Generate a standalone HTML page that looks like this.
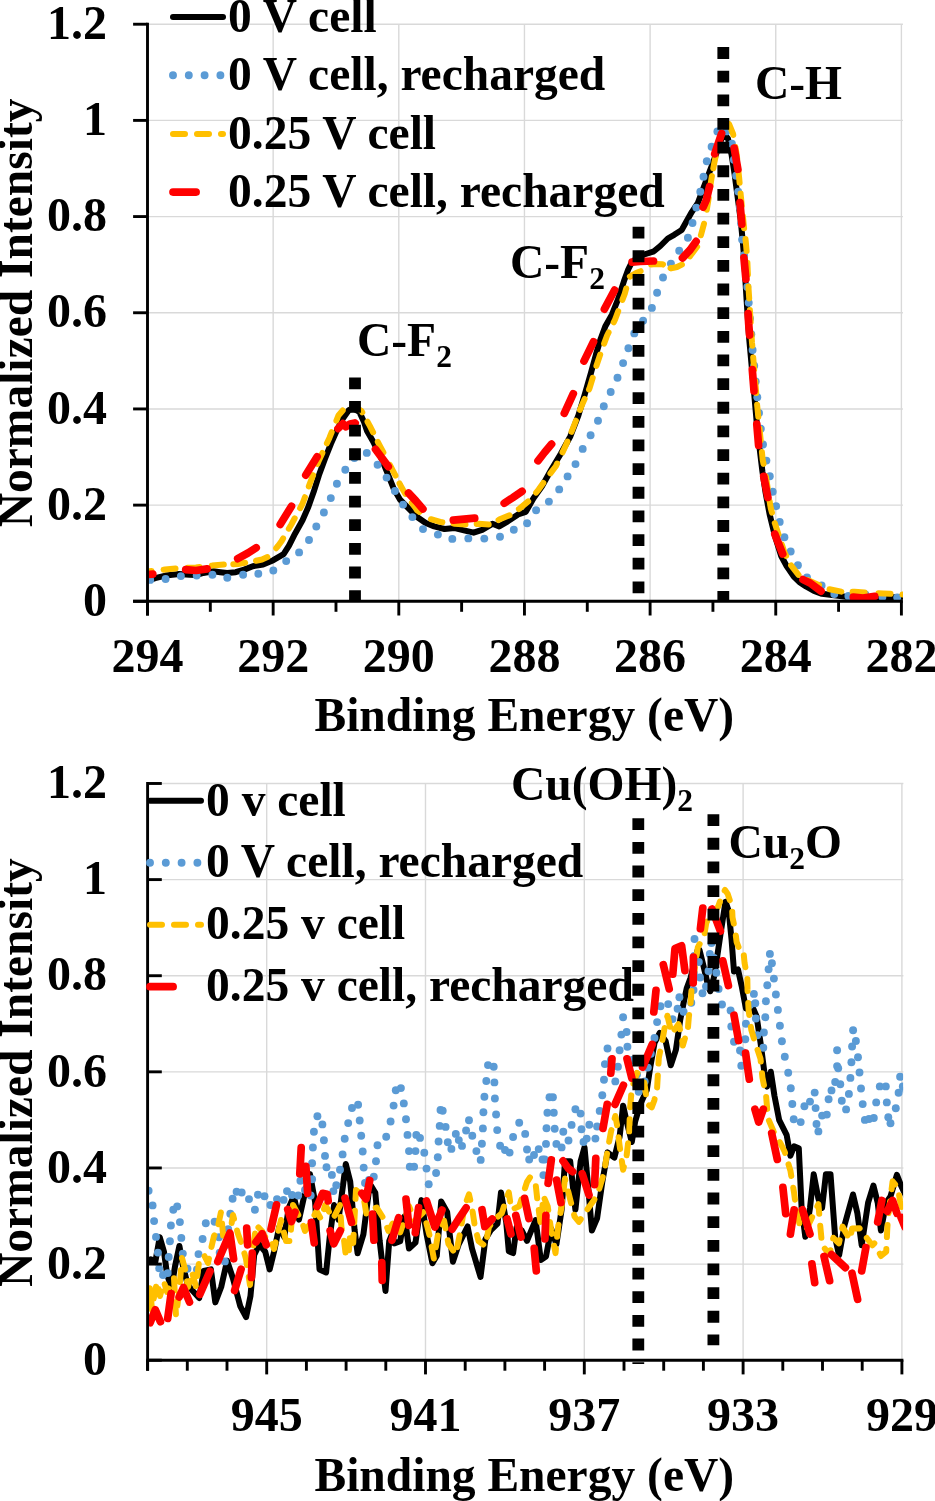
<!DOCTYPE html><html><head><meta charset="utf-8"><style>html,body{margin:0;padding:0;background:#fff;}svg{display:block;will-change:transform;}text{font-family:"Liberation Serif", serif;font-weight:bold;fill:#000;}</style></head><body>
<svg width="935" height="1501" viewBox="0 0 935 1501">
<rect width="935" height="1501" fill="#fff"/>
<defs><clipPath id="ct"><rect x="147.5" y="0" width="755.5" height="603"/></clipPath><clipPath id="cb"><rect x="147.6" y="760" width="755.5" height="603"/></clipPath></defs>
<line x1="147.5" y1="505.12" x2="902.90" y2="505.12" stroke="#d9d9d9" stroke-width="1.4"/>
<line x1="147.5" y1="408.94" x2="902.90" y2="408.94" stroke="#d9d9d9" stroke-width="1.4"/>
<line x1="147.5" y1="312.76" x2="902.90" y2="312.76" stroke="#d9d9d9" stroke-width="1.4"/>
<line x1="147.5" y1="216.58" x2="902.90" y2="216.58" stroke="#d9d9d9" stroke-width="1.4"/>
<line x1="147.5" y1="120.40" x2="902.90" y2="120.40" stroke="#d9d9d9" stroke-width="1.4"/>
<line x1="147.5" y1="24.22" x2="902.90" y2="24.22" stroke="#d9d9d9" stroke-width="1.4"/>
<line x1="273.15" y1="24.22" x2="273.15" y2="601.30" stroke="#d9d9d9" stroke-width="1.4"/>
<line x1="398.80" y1="24.22" x2="398.80" y2="601.30" stroke="#d9d9d9" stroke-width="1.4"/>
<line x1="524.45" y1="24.22" x2="524.45" y2="601.30" stroke="#d9d9d9" stroke-width="1.4"/>
<line x1="650.10" y1="24.22" x2="650.10" y2="601.30" stroke="#d9d9d9" stroke-width="1.4"/>
<line x1="775.75" y1="24.22" x2="775.75" y2="601.30" stroke="#d9d9d9" stroke-width="1.4"/>
<line x1="901.40" y1="24.22" x2="901.40" y2="601.30" stroke="#d9d9d9" stroke-width="1.4"/>
<path d="M147.6 580.7 L155.3 578.2 L165.5 575.6 L179.2 573.9 L189.5 574.8 L196.3 575.1 L203.2 573.0 L213.4 571.3 L220.3 572.2 L227.1 573.0 L235.7 572.2 L244.2 569.6 L252.8 566.2 L263.1 564.5 L273.3 560.2 L283.6 554.2 L289.0 545.7 L295.0 533.7 L302.5 520.3 L308.4 506.8 L313.7 491.8 L318.9 475.3 L324.9 458.9 L330.9 443.9 L336.9 430.4 L342.9 418.4 L348.9 410.0 L353.4 408.4 L359.4 412.0 L363.8 421.4 L366.8 430.4 L372.8 440.9 L380.3 455.9 L387.8 473.8 L393.8 488.8 L399.8 499.3 L408.6 508.4 L417.1 517.0 L425.7 523.0 L434.2 526.4 L444.5 529.0 L454.8 528.1 L465.0 530.7 L473.6 532.7 L482.1 529.8 L492.4 523.8 L499.2 526.4 L507.8 521.3 L518.1 514.4 L525.8 511.9 L533.5 498.2 L542.0 486.2 L551.2 469.7 L560.8 453.7 L570.4 436.2 L578.4 415.4 L584.7 394.6 L591.1 372.3 L595.9 354.7 L600.7 338.7 L605.5 325.9 L611.9 314.7 L618.3 298.7 L623.9 281.3 L628.2 269.5 L631.4 263.1 L636.7 257.8 L644.2 254.5 L653.9 251.3 L660.3 246.0 L667.8 238.5 L674.2 234.8 L681.7 229.9 L686.0 222.3 L691.9 211.8 L697.9 202.8 L702.4 190.9 L706.9 178.9 L711.4 166.9 L715.9 154.9 L720.4 141.4 L724.1 134.0 L727.9 138.4 L731.6 154.9 L734.6 174.4 L737.6 196.8 L740.6 219.3 L742.8 241.8 L744.3 259.7 L745.5 282.0 L746.6 300.0 L749.3 340.0 L753.9 390.6 L756.9 424.6 L759.8 450.0 L762.4 471.4 L765.6 492.8 L769.6 514.2 L774.8 535.6 L781.2 556.0 L786.6 566.0 L793.8 576.5 L800.0 582.5 L806.0 586.5 L814.0 591.0 L822.0 593.8 L834.0 595.2 L847.7 596.9 L864.8 597.7 L881.9 597.7 L899.0 596.9 L906.0 596.5" stroke="#000" stroke-width="6" fill="none" stroke-linejoin="round" stroke-linecap="round" clip-path="url(#ct)"/>
<g fill="#5b9bd5" clip-path="url(#ct)"><circle cx="150.2" cy="579.9" r="3.95"/><circle cx="165.6" cy="579.0" r="3.95"/><circle cx="180.9" cy="576.1" r="3.95"/><circle cx="196.7" cy="575.6" r="3.95"/><circle cx="212.4" cy="574.8" r="3.95"/><circle cx="227.3" cy="577.7" r="3.95"/><circle cx="243.1" cy="574.8" r="3.95"/><circle cx="258.3" cy="573.8" r="3.95"/><circle cx="273.3" cy="570.5" r="3.95"/><circle cx="286.2" cy="561.1" r="3.95"/><circle cx="299.1" cy="552.4" r="3.95"/><circle cx="309.0" cy="540.0" r="3.95"/><circle cx="316.3" cy="526.5" r="3.95"/><circle cx="323.9" cy="512.5" r="3.95"/><circle cx="330.8" cy="498.1" r="3.95"/><circle cx="336.9" cy="483.7" r="3.95"/><circle cx="345.3" cy="469.8" r="3.95"/><circle cx="354.4" cy="458.0" r="3.95"/><circle cx="366.8" cy="452.9" r="3.95"/><circle cx="377.6" cy="464.8" r="3.95"/><circle cx="386.6" cy="477.6" r="3.95"/><circle cx="394.9" cy="491.0" r="3.95"/><circle cx="403.1" cy="504.6" r="3.95"/><circle cx="412.4" cy="517.1" r="3.95"/><circle cx="423.0" cy="529.1" r="3.95"/><circle cx="437.9" cy="534.6" r="3.95"/><circle cx="452.3" cy="538.9" r="3.95"/><circle cx="468.3" cy="538.4" r="3.95"/><circle cx="484.3" cy="538.6" r="3.95"/><circle cx="500.0" cy="536.8" r="3.95"/><circle cx="513.8" cy="529.8" r="3.95"/><circle cx="527.1" cy="523.2" r="3.95"/><circle cx="536.1" cy="510.2" r="3.95"/><circle cx="548.9" cy="501.6" r="3.95"/><circle cx="559.2" cy="489.4" r="3.95"/><circle cx="567.6" cy="476.4" r="3.95"/><circle cx="575.5" cy="464.1" r="3.95"/><circle cx="582.7" cy="448.9" r="3.95"/><circle cx="590.6" cy="435.3" r="3.95"/><circle cx="598.0" cy="420.8" r="3.95"/><circle cx="603.8" cy="406.3" r="3.95"/><circle cx="610.7" cy="392.0" r="3.95"/><circle cx="617.5" cy="377.8" r="3.95"/><circle cx="623.1" cy="363.1" r="3.95"/><circle cx="628.4" cy="348.3" r="3.95"/><circle cx="634.3" cy="333.4" r="3.95"/><circle cx="643.1" cy="320.8" r="3.95"/><circle cx="651.9" cy="307.9" r="3.95"/><circle cx="657.1" cy="292.8" r="3.95"/><circle cx="663.0" cy="277.5" r="3.95"/><circle cx="670.9" cy="263.6" r="3.95"/><circle cx="679.2" cy="250.8" r="3.95"/><circle cx="687.9" cy="237.7" r="3.95"/><circle cx="692.5" cy="223.0" r="3.95"/><circle cx="696.3" cy="207.6" r="3.95"/><circle cx="700.3" cy="191.7" r="3.95"/><circle cx="703.5" cy="176.8" r="3.95"/><circle cx="706.8" cy="161.2" r="3.95"/><circle cx="711.6" cy="146.8" r="3.95"/><circle cx="717.4" cy="131.4" r="3.95"/><circle cx="726.3" cy="131.4" r="3.95"/><circle cx="731.9" cy="143.8" r="3.95"/><circle cx="733.9" cy="159.7" r="3.95"/><circle cx="736.1" cy="175.7" r="3.95"/><circle cx="738.2" cy="191.6" r="3.95"/><circle cx="739.8" cy="207.5" r="3.95"/><circle cx="741.1" cy="223.5" r="3.95"/><circle cx="742.1" cy="239.6" r="3.95"/><circle cx="744.1" cy="255.3" r="3.95"/><circle cx="745.8" cy="271.1" r="3.95"/><circle cx="747.3" cy="286.9" r="3.95"/><circle cx="748.7" cy="302.8" r="3.95"/><circle cx="750.0" cy="318.5" r="3.95"/><circle cx="751.3" cy="334.3" r="3.95"/><circle cx="752.6" cy="350.0" r="3.95"/><circle cx="754.2" cy="365.8" r="3.95"/><circle cx="755.7" cy="381.5" r="3.95"/><circle cx="757.3" cy="397.2" r="3.95"/><circle cx="759.0" cy="413.0" r="3.95"/><circle cx="760.8" cy="428.8" r="3.95"/><circle cx="763.0" cy="444.5" r="3.95"/><circle cx="766.4" cy="460.6" r="3.95"/><circle cx="769.8" cy="476.3" r="3.95"/><circle cx="772.7" cy="491.7" r="3.95"/><circle cx="776.1" cy="506.2" r="3.95"/><circle cx="779.7" cy="521.9" r="3.95"/><circle cx="784.4" cy="537.3" r="3.95"/><circle cx="790.7" cy="551.5" r="3.95"/><circle cx="797.9" cy="565.3" r="3.95"/><circle cx="807.0" cy="577.5" r="3.95"/><circle cx="821.6" cy="585.4" r="3.95"/><circle cx="834.3" cy="594.0" r="3.95"/><circle cx="848.4" cy="595.9" r="3.95"/><circle cx="865.4" cy="594.4" r="3.95"/><circle cx="882.4" cy="596.9" r="3.95"/><circle cx="897.2" cy="597.4" r="3.95"/></g>
<path d="M147.6 571.5 L151.6 571.0 M163.6 569.7 L165.0 569.5 L175.5 568.5 M187.7 567.8 L196.0 567.5 L199.7 567.0 M211.9 565.5 L212.0 565.5 L223.8 564.5 M233.3 564.2 L238.0 564.0 L245.2 562.8 M256.0 560.8 L262.0 559.5 L267.4 557.1 M276.2 548.2 L278.0 546.0 L281.5 541.2 L283.1 538.4 M288.8 528.7 L291.2 524.7 L294.7 518.3 M300.1 508.2 L302.5 503.8 L304.9 497.2 M308.8 486.4 L310.7 481.3 L313.1 475.2 M317.5 463.9 L318.9 460.4 L322.4 452.9 M326.9 443.3 L329.4 437.9 L331.7 432.2 M336.4 420.6 L338.4 415.5 L342.7 410.5 M352.2 406.7 L356.0 407.5 L361.6 411.0 L362.3 412.4 M367.5 421.7 L369.8 425.9 L373.1 432.4 M377.8 441.9 L379.6 445.4 L383.4 452.5 M389.9 465.0 L393.0 470.8 L395.5 475.7 M399.5 483.4 L400.0 484.5 L405.3 493.9 M411.8 502.9 L414.8 506.8 L417.1 510.2 L419.6 511.9 M430.9 519.2 L441.1 522.1 L442.4 522.3 M453.6 523.6 L454.8 523.8 L465.5 524.6 M476.7 524.0 L478.7 523.8 L488.7 524.5 M498.5 520.0 L499.2 519.6 L509.5 515.3 M518.9 509.0 L519.8 508.4 L528.2 501.4 M536.1 492.6 L538.6 489.6 L543.3 483.0 M550.4 473.4 L556.0 466.0 L557.1 463.6 M562.5 452.4 L565.6 445.8 L567.4 441.5 M571.5 431.8 L573.6 426.7 L575.9 420.7 M580.0 409.9 L581.6 405.9 L584.7 398.9 M589.0 389.4 L589.5 388.3 L592.7 377.9 M596.4 365.9 L600.2 354.5 M604.1 343.6 L607.1 335.5 L608.6 332.5 M613.7 322.3 L615.1 319.5 L618.2 311.2 M622.4 299.9 L624.7 293.9 L626.2 288.5 M629.9 276.6 L636.0 273.0 L640.6 271.2 M651.1 264.5 L656.0 264.0 L662.4 264.2 L663.0 264.5 M670.6 268.2 L671.0 268.4 L677.0 267.0 L681.9 264.6 M689.9 256.3 L691.3 254.5 L697.1 246.8 M700.9 235.3 L700.9 235.3 L704.0 223.7 M706.8 209.7 L708.4 199.8 L708.7 197.9 M710.1 187.8 L711.4 178.9 L711.9 176.0 M713.3 168.4 L714.4 162.4 L715.6 156.6 M718.2 144.9 L722.0 133.6 M728.9 124.1 L729.0 124.0 L733.1 134.0 L733.3 135.0 M735.4 146.9 L736.8 154.9 L737.2 158.7 M738.4 170.7 L739.1 177.4 L739.6 182.7 M740.6 193.5 L740.6 193.8 L741.8 205.5 M742.9 216.3 L744.1 228.2 M745.5 239.1 L745.8 241.8 L746.6 251.0 M747.4 262.7 L747.9 274.7 M748.4 286.4 L749.2 298.4 M749.9 310.1 L750.7 322.1 M751.4 333.8 L752.0 342.7 L752.3 345.7 M753.2 357.4 L754.2 369.4 M755.2 381.1 L756.2 393.0 M757.1 404.7 L757.3 406.7 L758.3 416.7 M759.5 428.4 L760.7 440.3 M761.9 452.0 L762.7 460.0 L763.5 463.9 M765.9 476.4 L766.0 477.0 L767.7 488.3 M769.6 501.0 L770.7 507.9 L772.0 512.7 M774.8 523.1 L774.9 523.3 L778.5 534.5 M781.9 544.7 L784.4 552.4 L786.1 555.9 M791.1 565.4 L798.5 574.8 M808.2 580.2 L818.6 584.9 L819.1 585.1 M829.5 589.3 L841.3 591.6 M852.6 591.8 L854.5 591.8 L864.6 592.6 M878.5 593.3 L883.6 593.5 L890.5 593.8 M902.5 594.4 L906.0 594.5" stroke="#ffc000" stroke-width="6" fill="none" stroke-linejoin="round" stroke-linecap="round" clip-path="url(#ct)"/>
<path d="M147.6 574.5 L152.8 574.1 M185.7 569.6 L196.0 570.5 L207.1 568.9 M237.7 558.6 L248.0 553.0 L256.2 547.7 M280.2 524.5 L291.5 506.2 M305.8 475.1 L317.1 456.8 M338.0 428.6 L342.9 423.7 L345.9 426.7 L350.0 424.0 L354.9 422.9 L355.2 423.1 M375.5 449.3 L388.3 466.6 M408.5 493.0 L416.0 501.0 L422.9 509.0 M453.3 520.2 L464.0 519.2 L474.7 518.1 M504.2 503.2 L513.0 497.5 L522.1 491.3 M538.0 460.8 L544.5 452.5 L551.6 444.1 M564.3 413.3 L573.3 393.7 M584.0 361.1 L593.5 341.8 M604.4 309.1 L614.6 290.1 M632.1 262.2 L640.0 261.5 L653.5 261.0 M682.5 258.0 L690.0 250.0 L696.1 241.4 M703.1 207.2 L706.3 200.0 L709.5 186.7 M714.7 153.9 L721.6 133.5 M734.2 148.1 L737.9 169.3 M740.0 202.7 L741.8 224.2 M743.9 257.7 L745.9 279.1 M748.1 313.7 L748.7 324.0 L749.6 335.1 M752.3 369.7 L754.0 390.7 L754.0 391.1 M756.8 424.1 L758.6 445.5 M763.7 476.3 L763.8 477.0 L767.9 497.4 M774.8 534.0 L782.7 554.0 M803.0 579.6 L810.0 583.0 L821.0 591.2 M853.3 597.0 L863.0 598.0 L874.7 596.3" stroke="#ff0000" stroke-width="7.7" fill="none" stroke-linejoin="round" stroke-linecap="round" clip-path="url(#ct)"/>
<line x1="355.0" y1="377.4" x2="355.0" y2="601.3" stroke="#000" stroke-width="11.8" stroke-dasharray="11.8 11.85"/>
<line x1="638.5" y1="226.7" x2="638.5" y2="601.3" stroke="#000" stroke-width="11.8" stroke-dasharray="11.8 11.85"/>
<line x1="723.3" y1="47.1" x2="723.3" y2="601.3" stroke="#000" stroke-width="11.8" stroke-dasharray="11.8 11.85"/>
<line x1="147.5" y1="22.82" x2="147.5" y2="615.50" stroke="#000" stroke-width="2.9"/>
<line x1="133.10" y1="601.30" x2="147.5" y2="601.30" stroke="#000" stroke-width="2.9"/>
<text x="107" y="616.00" font-size="48" text-anchor="end">0</text>
<line x1="133.10" y1="505.12" x2="147.5" y2="505.12" stroke="#000" stroke-width="2.9"/>
<text x="107" y="519.82" font-size="48" text-anchor="end">0.2</text>
<line x1="133.10" y1="408.94" x2="147.5" y2="408.94" stroke="#000" stroke-width="2.9"/>
<text x="107" y="423.64" font-size="48" text-anchor="end">0.4</text>
<line x1="133.10" y1="312.76" x2="147.5" y2="312.76" stroke="#000" stroke-width="2.9"/>
<text x="107" y="327.46" font-size="48" text-anchor="end">0.6</text>
<line x1="133.10" y1="216.58" x2="147.5" y2="216.58" stroke="#000" stroke-width="2.9"/>
<text x="107" y="231.28" font-size="48" text-anchor="end">0.8</text>
<line x1="133.10" y1="120.40" x2="147.5" y2="120.40" stroke="#000" stroke-width="2.9"/>
<text x="107" y="135.10" font-size="48" text-anchor="end">1</text>
<line x1="133.10" y1="24.22" x2="147.5" y2="24.22" stroke="#000" stroke-width="2.9"/>
<text x="107" y="38.92" font-size="48" text-anchor="end">1.2</text>
<line x1="133.10" y1="601.30" x2="902.90" y2="601.30" stroke="#000" stroke-width="2.9"/>
<line x1="147.50" y1="601.30" x2="147.50" y2="615.50" stroke="#000" stroke-width="2.9"/>
<line x1="210.32" y1="601.30" x2="210.32" y2="611.80" stroke="#000" stroke-width="2.9"/>
<line x1="273.15" y1="601.30" x2="273.15" y2="615.50" stroke="#000" stroke-width="2.9"/>
<line x1="335.98" y1="601.30" x2="335.98" y2="611.80" stroke="#000" stroke-width="2.9"/>
<line x1="398.80" y1="601.30" x2="398.80" y2="615.50" stroke="#000" stroke-width="2.9"/>
<line x1="461.62" y1="601.30" x2="461.62" y2="611.80" stroke="#000" stroke-width="2.9"/>
<line x1="524.45" y1="601.30" x2="524.45" y2="615.50" stroke="#000" stroke-width="2.9"/>
<line x1="587.28" y1="601.30" x2="587.28" y2="611.80" stroke="#000" stroke-width="2.9"/>
<line x1="650.10" y1="601.30" x2="650.10" y2="615.50" stroke="#000" stroke-width="2.9"/>
<line x1="712.93" y1="601.30" x2="712.93" y2="611.80" stroke="#000" stroke-width="2.9"/>
<line x1="775.75" y1="601.30" x2="775.75" y2="615.50" stroke="#000" stroke-width="2.9"/>
<line x1="838.58" y1="601.30" x2="838.58" y2="611.80" stroke="#000" stroke-width="2.9"/>
<line x1="901.40" y1="601.30" x2="901.40" y2="615.50" stroke="#000" stroke-width="2.9"/>
<text x="147.50" y="671.70" font-size="48" text-anchor="middle">294</text>
<text x="273.15" y="671.70" font-size="48" text-anchor="middle">292</text>
<text x="398.80" y="671.70" font-size="48" text-anchor="middle">290</text>
<text x="524.45" y="671.70" font-size="48" text-anchor="middle">288</text>
<text x="650.10" y="671.70" font-size="48" text-anchor="middle">286</text>
<text x="775.75" y="671.70" font-size="48" text-anchor="middle">284</text>
<text x="901.40" y="671.70" font-size="48" text-anchor="middle">282</text>
<text x="524.3" y="731.3" font-size="47.5" text-anchor="middle">Binding Energy (eV)</text>
<text transform="translate(32.3 312.9) rotate(-90)" font-size="47.5" text-anchor="middle">Normalized Intensity</text>
<path d="M173 17.1 L223 17.1" stroke="#000" stroke-width="6" fill="none" stroke-linejoin="round" stroke-linecap="round"/>
<text x="228" y="31.7" font-size="47.5">0 V cell</text>
<path d="M173 75.3 L223 75.3" stroke="#5b9bd5" stroke-width="7.9" fill="none" stroke-linejoin="round" stroke-linecap="round" stroke-dasharray="0 15.8"/>
<text x="228" y="89.9" font-size="47.5">0 V cell, recharged</text>
<path d="M173 134.0 L223 134.0" stroke="#ffc000" stroke-width="6" fill="none" stroke-linejoin="round" stroke-linecap="round" stroke-dasharray="12 12"/>
<text x="228" y="148.6" font-size="47.5">0.25 V cell</text>
<path d="M173 192.1 L223 192.1" stroke="#ff0000" stroke-width="7.7" fill="none" stroke-linejoin="round" stroke-linecap="round" stroke-dasharray="23.1 30.8"/>
<text x="228" y="206.7" font-size="47.5">0.25 V cell, recharged</text>
<text x="357" y="355.9" font-size="47.5">C-F<tspan font-size="31.5" dy="11.4">2</tspan></text>
<text x="510" y="278" font-size="47.5">C-F<tspan font-size="31.5" dy="11.4">2</tspan></text>
<text x="755" y="98.8" font-size="47.5">C-H</text>
<line x1="147.6" y1="1264.08" x2="903.40" y2="1264.08" stroke="#d9d9d9" stroke-width="1.4"/>
<line x1="147.6" y1="1167.96" x2="903.40" y2="1167.96" stroke="#d9d9d9" stroke-width="1.4"/>
<line x1="147.6" y1="1071.84" x2="903.40" y2="1071.84" stroke="#d9d9d9" stroke-width="1.4"/>
<line x1="147.6" y1="975.72" x2="903.40" y2="975.72" stroke="#d9d9d9" stroke-width="1.4"/>
<line x1="147.6" y1="879.60" x2="903.40" y2="879.60" stroke="#d9d9d9" stroke-width="1.4"/>
<line x1="147.6" y1="783.48" x2="903.40" y2="783.48" stroke="#d9d9d9" stroke-width="1.4"/>
<line x1="266.70" y1="783.48" x2="266.70" y2="1360.20" stroke="#d9d9d9" stroke-width="1.4"/>
<line x1="425.50" y1="783.48" x2="425.50" y2="1360.20" stroke="#d9d9d9" stroke-width="1.4"/>
<line x1="584.30" y1="783.48" x2="584.30" y2="1360.20" stroke="#d9d9d9" stroke-width="1.4"/>
<line x1="743.10" y1="783.48" x2="743.10" y2="1360.20" stroke="#d9d9d9" stroke-width="1.4"/>
<line x1="901.90" y1="783.48" x2="901.90" y2="1360.20" stroke="#d9d9d9" stroke-width="1.4"/>
<path d="M147.2 1260.7 L150.9 1259.2 L155.3 1262.1 L159.7 1237.2 L164.0 1251.9 L167.0 1273.8 L171.4 1288.5 L175.0 1266.5 L179.4 1246.0 L183.1 1266.5 L187.5 1284.1 L191.9 1290.0 L199.2 1298.0 L203.6 1270.9 L210.9 1269.4 L215.3 1302.4 L221.2 1287.0 L227.1 1260.7 L232.9 1278.2 L240.2 1306.1 L246.1 1317.1 L250.5 1295.8 L254.2 1254.8 L259.3 1244.5 L265.3 1251.9 L269.7 1269.4 L274.0 1251.9 L279.2 1227.0 L284.3 1237.2 L288.7 1207.9 L293.8 1196.2 L299.0 1219.6 L304.8 1193.3 L310.0 1174.2 L315.1 1202.0 L319.5 1269.4 L326.1 1272.4 L329.7 1237.2 L334.1 1205.0 L338.5 1219.6 L345.8 1164.0 L350.2 1181.5 L354.6 1229.9 L357.6 1253.3 L363.4 1234.3 L368.6 1193.3 L370.9 1185.5 L375.3 1192.8 L379.7 1241.2 L385.5 1291.0 L389.2 1241.2 L392.1 1233.8 L394.3 1243.4 L400.2 1241.2 L404.6 1216.3 L409.0 1248.5 L415.5 1242.6 L421.4 1200.1 L426.5 1233.8 L432.4 1263.2 L436.8 1255.8 L441.2 1201.6 L447.1 1211.9 L452.9 1261.7 L458.8 1244.1 L467.6 1226.5 L472.0 1248.5 L480.5 1277.0 L485.4 1239.2 L490.6 1230.5 L497.5 1223.6 L501.0 1192.4 L506.2 1221.9 L508.8 1251.3 L513.1 1253.1 L516.6 1227.1 L521.8 1230.5 L527.0 1240.9 L535.6 1220.1 L540.8 1260.0 L546.0 1256.5 L551.2 1228.8 L556.4 1244.4 L561.6 1209.8 L565.0 1161.3 L570.2 1161.3 L575.4 1209.8 L580.6 1161.3 L584.5 1147.4 L588.5 1190.5 L591.9 1230.5 L597.1 1218.3 L602.3 1181.9 L607.5 1152.4 L614.4 1157.6 L619.6 1136.8 L623.1 1105.7 L626.6 1121.3 L631.8 1142.0 L635.2 1121.3 L640.4 1103.9 L646.8 1090.0 L650.3 1067.0 L654.5 1043.0 L659.7 1032.8 L665.7 1041.3 L670.8 1065.3 L675.9 1049.9 L680.2 1020.0 L683.6 1002.8 L686.8 988.0 L690.5 978.0 L697.5 950.5 L699.5 950.0 L703.5 966.0 L708.4 987.0 L710.3 991.2 L714.5 975.0 L720.4 934.8 L725.5 901.7 L728.7 911.0 L731.6 940.0 L734.0 971.5 L738.0 969.5 L741.9 987.2 L745.9 1008.5 L752.6 1007.2 L756.6 1016.5 L760.6 1043.2 L764.3 1071.7 L767.1 1086.6 L770.8 1071.7 L774.5 1096.0 L779.2 1120.2 L786.7 1135.2 L790.4 1155.7 L794.1 1146.4 L798.8 1148.2 L801.6 1207.9 L805.3 1236.8 L810.0 1207.9 L813.7 1174.3 L818.4 1198.6 L822.1 1207.9 L825.9 1174.3 L830.5 1174.3 L835.2 1237.8 L839.1 1255.3 L844.5 1225.3 L853.0 1194.5 L857.4 1213.3 L861.7 1245.3 L868.1 1202.7 L873.4 1185.6 L877.7 1202.7 L880.9 1230.4 L886.2 1202.7 L890.5 1196.3 L896.9 1174.9 L901.1 1185.6 L906.0 1196.0" stroke="#000" stroke-width="6" fill="none" stroke-linejoin="round" stroke-linecap="round" clip-path="url(#cb)"/>
<g fill="#5b9bd5" clip-path="url(#cb)"><circle cx="148.6" cy="1190.8" r="3.95"/><circle cx="152.6" cy="1205.4" r="3.95"/><circle cx="154.1" cy="1221.1" r="3.95"/><circle cx="156.0" cy="1236.9" r="3.95"/><circle cx="157.9" cy="1252.6" r="3.95"/><circle cx="159.2" cy="1268.4" r="3.95"/><circle cx="163.0" cy="1275.0" r="3.95"/><circle cx="167.7" cy="1273.1" r="3.95"/><circle cx="168.7" cy="1257.0" r="3.95"/><circle cx="169.9" cy="1241.2" r="3.95"/><circle cx="170.9" cy="1225.5" r="3.95"/><circle cx="173.3" cy="1209.8" r="3.95"/><circle cx="177.2" cy="1206.4" r="3.95"/><circle cx="179.9" cy="1222.1" r="3.95"/><circle cx="181.3" cy="1237.9" r="3.95"/><circle cx="182.8" cy="1253.6" r="3.95"/><circle cx="187.5" cy="1268.7" r="3.95"/><circle cx="197.0" cy="1269.5" r="3.95"/><circle cx="198.5" cy="1254.1" r="3.95"/><circle cx="202.6" cy="1239.0" r="3.95"/><circle cx="205.8" cy="1223.3" r="3.95"/><circle cx="214.6" cy="1221.8" r="3.95"/><circle cx="219.0" cy="1237.2" r="3.95"/><circle cx="219.7" cy="1252.6" r="3.95"/><circle cx="224.9" cy="1261.4" r="3.95"/><circle cx="226.0" cy="1245.0" r="3.95"/><circle cx="228.2" cy="1229.2" r="3.95"/><circle cx="230.3" cy="1213.8" r="3.95"/><circle cx="232.6" cy="1198.7" r="3.95"/><circle cx="236.6" cy="1191.8" r="3.95"/><circle cx="241.7" cy="1192.5" r="3.95"/><circle cx="249.0" cy="1199.1" r="3.95"/><circle cx="254.9" cy="1209.7" r="3.95"/><circle cx="257.9" cy="1194.7" r="3.95"/><circle cx="264.5" cy="1196.2" r="3.95"/><circle cx="270.4" cy="1205.0" r="3.95"/><circle cx="277.0" cy="1199.1" r="3.95"/><circle cx="283.6" cy="1199.9" r="3.95"/><circle cx="287.0" cy="1191.1" r="3.95"/><circle cx="292.0" cy="1195.0" r="3.95"/><circle cx="298.2" cy="1195.5" r="3.95"/><circle cx="300.4" cy="1180.8" r="3.95"/><circle cx="305.0" cy="1190.0" r="3.95"/><circle cx="310.7" cy="1195.5" r="3.95"/><circle cx="312.1" cy="1179.3" r="3.95"/><circle cx="312.1" cy="1163.2" r="3.95"/><circle cx="312.9" cy="1147.5" r="3.95"/><circle cx="313.9" cy="1131.7" r="3.95"/><circle cx="317.4" cy="1116.2" r="3.95"/><circle cx="322.4" cy="1124.4" r="3.95"/><circle cx="323.9" cy="1140.2" r="3.95"/><circle cx="325.0" cy="1155.9" r="3.95"/><circle cx="326.5" cy="1167.3" r="3.95"/><circle cx="331.9" cy="1174.9" r="3.95"/><circle cx="333.4" cy="1191.1" r="3.95"/><circle cx="336.3" cy="1185.2" r="3.95"/><circle cx="340.0" cy="1169.8" r="3.95"/><circle cx="342.6" cy="1154.4" r="3.95"/><circle cx="344.7" cy="1138.8" r="3.95"/><circle cx="348.2" cy="1123.1" r="3.95"/><circle cx="352.0" cy="1108.0" r="3.95"/><circle cx="358.1" cy="1104.8" r="3.95"/><circle cx="359.7" cy="1120.5" r="3.95"/><circle cx="361.2" cy="1135.8" r="3.95"/><circle cx="362.7" cy="1151.5" r="3.95"/><circle cx="363.7" cy="1167.6" r="3.95"/><circle cx="365.0" cy="1183.0" r="3.95"/><circle cx="369.0" cy="1180.0" r="3.95"/><circle cx="373.8" cy="1176.7" r="3.95"/><circle cx="376.0" cy="1161.3" r="3.95"/><circle cx="377.5" cy="1145.2" r="3.95"/><circle cx="386.2" cy="1136.8" r="3.95"/><circle cx="390.6" cy="1121.5" r="3.95"/><circle cx="393.6" cy="1105.6" r="3.95"/><circle cx="395.8" cy="1090.3" r="3.95"/><circle cx="400.9" cy="1088.1" r="3.95"/><circle cx="403.8" cy="1103.4" r="3.95"/><circle cx="406.0" cy="1119.3" r="3.95"/><circle cx="407.5" cy="1134.9" r="3.95"/><circle cx="409.0" cy="1151.1" r="3.95"/><circle cx="409.8" cy="1166.7" r="3.95"/><circle cx="414.1" cy="1166.7" r="3.95"/><circle cx="415.5" cy="1151.1" r="3.95"/><circle cx="416.3" cy="1134.9" r="3.95"/><circle cx="420.0" cy="1137.9" r="3.95"/><circle cx="424.3" cy="1152.8" r="3.95"/><circle cx="426.5" cy="1168.6" r="3.95"/><circle cx="428.7" cy="1184.3" r="3.95"/><circle cx="436.1" cy="1173.0" r="3.95"/><circle cx="437.8" cy="1157.2" r="3.95"/><circle cx="438.6" cy="1141.5" r="3.95"/><circle cx="439.7" cy="1125.9" r="3.95"/><circle cx="440.5" cy="1110.0" r="3.95"/><circle cx="442.7" cy="1110.8" r="3.95"/><circle cx="445.6" cy="1126.9" r="3.95"/><circle cx="447.8" cy="1142.3" r="3.95"/><circle cx="451.4" cy="1148.9" r="3.95"/><circle cx="455.8" cy="1133.9" r="3.95"/><circle cx="458.8" cy="1140.1" r="3.95"/><circle cx="462.0" cy="1145.9" r="3.95"/><circle cx="466.1" cy="1130.5" r="3.95"/><circle cx="469.0" cy="1120.3" r="3.95"/><circle cx="472.3" cy="1135.7" r="3.95"/><circle cx="476.4" cy="1151.1" r="3.95"/><circle cx="480.7" cy="1159.9" r="3.95"/><circle cx="481.9" cy="1143.7" r="3.95"/><circle cx="482.9" cy="1128.4" r="3.95"/><circle cx="483.4" cy="1112.2" r="3.95"/><circle cx="484.4" cy="1096.8" r="3.95"/><circle cx="486.3" cy="1081.0" r="3.95"/><circle cx="488.0" cy="1065.1" r="3.95"/><circle cx="493.7" cy="1066.8" r="3.95"/><circle cx="494.4" cy="1082.4" r="3.95"/><circle cx="494.9" cy="1098.5" r="3.95"/><circle cx="496.1" cy="1114.5" r="3.95"/><circle cx="497.2" cy="1130.1" r="3.95"/><circle cx="500.1" cy="1145.7" r="3.95"/><circle cx="505.0" cy="1150.0" r="3.95"/><circle cx="509.6" cy="1152.6" r="3.95"/><circle cx="513.1" cy="1137.0" r="3.95"/><circle cx="519.2" cy="1122.8" r="3.95"/><circle cx="525.2" cy="1133.9" r="3.95"/><circle cx="527.0" cy="1149.5" r="3.95"/><circle cx="529.2" cy="1159.5" r="3.95"/><circle cx="534.0" cy="1155.0" r="3.95"/><circle cx="538.7" cy="1149.1" r="3.95"/><circle cx="542.5" cy="1159.5" r="3.95"/><circle cx="543.4" cy="1175.1" r="3.95"/><circle cx="544.7" cy="1159.5" r="3.95"/><circle cx="546.0" cy="1143.9" r="3.95"/><circle cx="546.5" cy="1128.3" r="3.95"/><circle cx="547.4" cy="1112.8" r="3.95"/><circle cx="549.5" cy="1097.2" r="3.95"/><circle cx="552.9" cy="1097.2" r="3.95"/><circle cx="553.8" cy="1112.8" r="3.95"/><circle cx="554.7" cy="1128.7" r="3.95"/><circle cx="556.4" cy="1143.9" r="3.95"/><circle cx="561.6" cy="1147.4" r="3.95"/><circle cx="563.3" cy="1131.8" r="3.95"/><circle cx="568.5" cy="1140.5" r="3.95"/><circle cx="571.6" cy="1124.9" r="3.95"/><circle cx="575.4" cy="1109.3" r="3.95"/><circle cx="580.6" cy="1113.6" r="3.95"/><circle cx="581.5" cy="1129.2" r="3.95"/><circle cx="583.5" cy="1142.0" r="3.95"/><circle cx="586.7" cy="1138.6" r="3.95"/><circle cx="589.3" cy="1124.7" r="3.95"/><circle cx="595.4" cy="1138.6" r="3.95"/><circle cx="597.1" cy="1126.5" r="3.95"/><circle cx="599.7" cy="1110.9" r="3.95"/><circle cx="602.3" cy="1095.3" r="3.95"/><circle cx="604.0" cy="1079.7" r="3.95"/><circle cx="604.9" cy="1064.1" r="3.95"/><circle cx="607.5" cy="1048.5" r="3.95"/><circle cx="611.0" cy="1060.0" r="3.95"/><circle cx="615.3" cy="1081.4" r="3.95"/><circle cx="617.9" cy="1066.7" r="3.95"/><circle cx="619.6" cy="1050.2" r="3.95"/><circle cx="621.4" cy="1034.6" r="3.95"/><circle cx="623.1" cy="1017.3" r="3.95"/><circle cx="626.6" cy="1032.0" r="3.95"/><circle cx="627.4" cy="1046.8" r="3.95"/><circle cx="632.0" cy="1060.0" r="3.95"/><circle cx="637.0" cy="1074.5" r="3.95"/><circle cx="638.7" cy="1091.8" r="3.95"/><circle cx="644.7" cy="1081.4" r="3.95"/><circle cx="647.8" cy="1067.6" r="3.95"/><circle cx="650.8" cy="1053.7" r="3.95"/><circle cx="654.5" cy="1037.9" r="3.95"/><circle cx="657.1" cy="1022.1" r="3.95"/><circle cx="660.5" cy="1006.3" r="3.95"/><circle cx="668.2" cy="1004.1" r="3.95"/><circle cx="672.5" cy="1019.1" r="3.95"/><circle cx="677.6" cy="1008.8" r="3.95"/><circle cx="679.4" cy="997.3" r="3.95"/><circle cx="683.6" cy="1011.8" r="3.95"/><circle cx="691.3" cy="1002.8" r="3.95"/><circle cx="693.5" cy="990.0" r="3.95"/><circle cx="693.8" cy="973.0" r="3.95"/><circle cx="694.2" cy="956.0" r="3.95"/><circle cx="694.5" cy="939.0" r="3.95"/><circle cx="698.8" cy="962.0" r="3.95"/><circle cx="700.0" cy="977.5" r="3.95"/><circle cx="702.5" cy="993.3" r="3.95"/><circle cx="706.0" cy="986.5" r="3.95"/><circle cx="708.5" cy="971.0" r="3.95"/><circle cx="709.8" cy="954.0" r="3.95"/><circle cx="711.5" cy="943.0" r="3.95"/><circle cx="713.9" cy="957.9" r="3.95"/><circle cx="716.3" cy="972.8" r="3.95"/><circle cx="718.6" cy="989.0" r="3.95"/><circle cx="722.0" cy="1004.5" r="3.95"/><circle cx="730.6" cy="1010.5" r="3.95"/><circle cx="731.3" cy="1026.5" r="3.95"/><circle cx="734.0" cy="1041.8" r="3.95"/><circle cx="740.0" cy="1050.5" r="3.95"/><circle cx="741.3" cy="1065.8" r="3.95"/><circle cx="743.3" cy="1052.5" r="3.95"/><circle cx="745.3" cy="1039.2" r="3.95"/><circle cx="745.9" cy="1023.8" r="3.95"/><circle cx="750.0" cy="1005.0" r="3.95"/><circle cx="753.9" cy="993.9" r="3.95"/><circle cx="755.3" cy="1003.2" r="3.95"/><circle cx="755.9" cy="1018.5" r="3.95"/><circle cx="757.3" cy="1035.2" r="3.95"/><circle cx="763.3" cy="1047.8" r="3.95"/><circle cx="763.9" cy="1032.5" r="3.95"/><circle cx="765.3" cy="1017.2" r="3.95"/><circle cx="765.9" cy="1001.2" r="3.95"/><circle cx="767.3" cy="985.2" r="3.95"/><circle cx="768.6" cy="969.2" r="3.95"/><circle cx="769.9" cy="953.9" r="3.95"/><circle cx="771.9" cy="963.2" r="3.95"/><circle cx="773.9" cy="978.6" r="3.95"/><circle cx="775.9" cy="994.5" r="3.95"/><circle cx="777.9" cy="1009.9" r="3.95"/><circle cx="779.9" cy="1025.8" r="3.95"/><circle cx="781.9" cy="1041.2" r="3.95"/><circle cx="784.8" cy="1056.8" r="3.95"/><circle cx="788.2" cy="1072.7" r="3.95"/><circle cx="790.8" cy="1088.2" r="3.95"/><circle cx="792.3" cy="1104.0" r="3.95"/><circle cx="793.7" cy="1119.3" r="3.95"/><circle cx="800.7" cy="1122.1" r="3.95"/><circle cx="804.4" cy="1106.3" r="3.95"/><circle cx="810.0" cy="1101.6" r="3.95"/><circle cx="814.7" cy="1092.6" r="3.95"/><circle cx="815.6" cy="1108.1" r="3.95"/><circle cx="816.5" cy="1124.0" r="3.95"/><circle cx="818.4" cy="1131.4" r="3.95"/><circle cx="822.1" cy="1115.6" r="3.95"/><circle cx="826.8" cy="1114.6" r="3.95"/><circle cx="828.6" cy="1099.3" r="3.95"/><circle cx="831.5" cy="1090.4" r="3.95"/><circle cx="835.2" cy="1082.0" r="3.95"/><circle cx="837.1" cy="1066.1" r="3.95"/><circle cx="837.1" cy="1050.3" r="3.95"/><circle cx="838.2" cy="1068.3" r="3.95"/><circle cx="840.3" cy="1084.3" r="3.95"/><circle cx="841.8" cy="1100.7" r="3.95"/><circle cx="846.1" cy="1109.4" r="3.95"/><circle cx="848.9" cy="1093.9" r="3.95"/><circle cx="850.4" cy="1077.9" r="3.95"/><circle cx="851.4" cy="1062.3" r="3.95"/><circle cx="852.1" cy="1046.5" r="3.95"/><circle cx="853.1" cy="1030.3" r="3.95"/><circle cx="855.9" cy="1041.0" r="3.95"/><circle cx="858.0" cy="1057.2" r="3.95"/><circle cx="859.5" cy="1072.5" r="3.95"/><circle cx="861.0" cy="1088.5" r="3.95"/><circle cx="862.7" cy="1104.1" r="3.95"/><circle cx="864.9" cy="1119.9" r="3.95"/><circle cx="869.0" cy="1119.0" r="3.95"/><circle cx="873.8" cy="1118.0" r="3.95"/><circle cx="876.2" cy="1102.4" r="3.95"/><circle cx="879.8" cy="1086.4" r="3.95"/><circle cx="885.8" cy="1086.4" r="3.95"/><circle cx="886.8" cy="1102.4" r="3.95"/><circle cx="888.3" cy="1117.3" r="3.95"/><circle cx="890.5" cy="1123.3" r="3.95"/><circle cx="895.8" cy="1108.2" r="3.95"/><circle cx="898.6" cy="1092.8" r="3.95"/><circle cx="900.1" cy="1076.8" r="3.95"/><circle cx="902.8" cy="1086.4" r="3.95"/><circle cx="906.0" cy="1090.0" r="3.95"/></g>
<path d="M147.5 1300.0 L150.0 1287.0 L152.0 1310.0 L154.0 1297.0 L157.0 1282.0 L160.0 1296.0 L164.0 1282.0 L167.0 1292.0 L170.0 1285.0 L174.0 1278.0 L176.0 1316.0 L179.0 1293.0 L182.0 1258.0 L185.0 1269.0 L188.0 1287.0 L192.0 1272.0 L196.0 1287.0 L199.0 1262.0 L204.0 1255.0 L208.0 1263.0 L211.0 1249.0 L214.0 1236.0 L217.0 1231.0 L221.0 1212.0 L224.0 1245.0 L228.0 1245.0 L233.0 1215.0 L238.0 1234.0 L242.0 1245.0 L246.0 1259.0 L250.0 1285.0 L253.0 1250.0 L256.0 1225.0 L262.0 1231.0 L265.0 1237.0 L269.7 1237.0 L274.0 1249.0 L281.0 1220.0 L286.0 1241.0 L290.0 1241.0 L293.0 1205.0 L302.0 1222.0 L305.0 1231.0 L308.0 1227.0 L312.0 1220.0 L316.5 1211.0 L321.0 1219.0 L325.3 1205.0 L333.0 1219.0 L340.0 1205.0 L341.4 1227.0 L344.0 1240.0 L346.0 1257.0 L348.8 1252.0 L350.2 1233.0 L353.2 1243.0 L356.0 1190.0 L363.4 1196.0 L366.4 1214.0 L370.0 1210.0 L376.7 1207.5 L384.0 1219.2 L388.4 1231.0 L394.3 1220.7 L400.2 1232.4 L409.0 1206.0 L414.8 1220.7 L423.6 1212.0 L429.5 1235.3 L433.9 1258.8 L438.3 1232.4 L444.1 1220.7 L448.5 1244.1 L455.8 1254.4 L460.2 1232.4 L464.6 1206.0 L469.0 1194.3 L472.0 1207.5 L474.9 1226.5 L478.5 1241.0 L485.4 1246.1 L488.9 1227.1 L495.8 1218.4 L501.8 1213.2 L506.2 1199.4 L508.8 1192.4 L511.4 1209.8 L519.2 1206.3 L527.0 1182.0 L530.4 1176.8 L535.6 1183.8 L537.3 1199.4 L540.8 1225.3 L543.4 1195.9 L547.7 1206.3 L551.2 1230.5 L555.5 1253.1 L558.1 1227.1 L561.6 1206.3 L565.0 1178.6 L570.2 1199.4 L574.6 1216.7 L578.9 1221.9 L585.0 1213.0 L588.5 1207.8 L597.1 1195.7 L604.0 1173.2 L607.5 1150.7 L611.0 1131.6 L615.3 1116.0 L617.0 1124.7 L619.6 1145.5 L623.1 1169.8 L626.6 1155.9 L629.2 1133.4 L630.0 1109.1 L631.8 1088.3 L637.0 1072.8 L643.9 1079.7 L647.3 1103.9 L651.7 1107.4 L654.3 1100.5 L657.1 1088.0 L658.8 1058.0 L662.2 1041.3 L664.8 1026.8 L667.4 1015.7 L671.7 1033.6 L678.5 1024.2 L681.1 1032.8 L682.8 1045.6 L687.9 1028.5 L688.8 1017.4 L690.5 1004.5 L691.5 990.0 L692.4 984.8 L697.8 947.4 L704.2 935.6 L706.3 922.8 L710.6 915.3 L718.1 906.7 L722.4 895.0 L725.0 890.0 L727.7 893.9 L732.0 906.7 L732.5 917.4 L735.2 930.3 L736.6 941.9 L739.5 949.5 L743.3 949.9 L744.6 963.2 L747.3 976.6 L747.5 989.9 L748.6 1009.9 L751.3 1029.8 L755.3 1043.2 L760.5 1058.7 L762.4 1077.3 L766.1 1096.0 L768.0 1118.4 L773.6 1131.5 L781.1 1144.5 L784.8 1152.0 L790.4 1170.6 L794.1 1193.0 L796.0 1207.9 L799.7 1224.8 L806.0 1230.0 L814.7 1211.7 L818.4 1204.2 L820.3 1226.6 L822.1 1245.3 L829.6 1254.6 L833.3 1237.8 L838.9 1243.4 L842.6 1226.6 L845.7 1232.5 L850.1 1239.7 L852.0 1228.5 L859.5 1228.3 L865.9 1236.8 L872.3 1245.3 L874.5 1243.2 L880.9 1256.0 L886.2 1251.7 L887.3 1228.3 L888.3 1215.5 L892.6 1181.3 L897.9 1187.7 L900.0 1200.5 L902.2 1211.2 L906.0 1220.0" stroke="#ffc000" stroke-width="6" fill="none" stroke-linejoin="round" stroke-linecap="round" stroke-dasharray="12 12" clip-path="url(#cb)"/>
<path d="M150.1 1322.7 L155.3 1309.8 L160.4 1321.8 M167.7 1318.4 L171.1 1293.6 M179.2 1297.0 L183.5 1287.6 L189.5 1302.1 M199.8 1294.4 L210.0 1271.3 M217.8 1261.6 L229.9 1233.0 L233.6 1258.8 M234.6 1290.5 L241.1 1269.1 M246.7 1228.1 L247.6 1244.8 M251.4 1277.5 L252.3 1253.2 M256.0 1242.0 L262.1 1233.7 L266.3 1244.8 M271.0 1229.0 L276.5 1204.8 M287.7 1209.4 L291.5 1221.5 L295.0 1212.2 M301.2 1147.7 L299.8 1173.8 M305.9 1166.4 L307.7 1193.4 M311.4 1222.3 L314.2 1242.8 M317.0 1206.5 L322.6 1193.4 L327.3 1194.3 L328.2 1200.9 M330.1 1230.7 L333.8 1243.8 L340.3 1230.7 M345.0 1198.1 L351.5 1222.3 M361.8 1193.4 L366.0 1199.0 L369.7 1180.5 M372.5 1214.1 L373.9 1240.2 M381.8 1262.6 L382.2 1280.3 M392.0 1240.2 L398.6 1217.8 M406.0 1199.2 L408.8 1225.3 M415.3 1232.7 L418.6 1207.6 M426.5 1201.0 L434.9 1227.1 L442.0 1210.0 M452.1 1229.3 L458.6 1219.0 L466.1 1207.8 M482.0 1209.7 L484.8 1226.5 L492.2 1219.0 M507.1 1219.0 L510.9 1233.9 M515.8 1215.5 L521.0 1237.0 M524.6 1198.3 L528.9 1218.5 M534.2 1248.4 L536.3 1270.8 M544.9 1238.8 L545.9 1215.3 M548.1 1183.3 L551.3 1159.9 M556.6 1180.1 L560.9 1202.5 M563.0 1160.9 L568.3 1168.4 L572.6 1171.6 M582.2 1173.7 L589.0 1195.0 M594.6 1184.7 L595.8 1158.3 M603.0 1128.4 L607.2 1104.4 M610.8 1073.2 L612.0 1058.8 M615.0 1104.4 L623.4 1085.2 M627.0 1058.8 L631.8 1078.0 M642.6 1067.2 L652.2 1044.4 M653.8 1012.0 L656.0 990.4 M663.3 964.7 L669.2 988.9 M672.8 974.2 L675.0 948.6 L681.6 945.7 L684.9 970.6 M693.2 983.0 L693.4 957.0 M700.4 928.8 L702.8 908.0 M712.0 909.0 L720.4 931.2 M722.8 960.8 L728.4 985.6 M734.0 1015.2 L738.6 1040.5 M745.6 1053.1 L749.3 1079.2 M754.9 1109.1 L758.7 1122.1 L763.3 1109.1 M771.7 1133.3 L777.3 1159.4 M782.9 1187.4 L785.7 1213.6 M790.4 1234.1 L794.1 1209.8 M802.5 1209.8 L810.0 1234.1 M811.9 1263.9 L814.7 1282.6 M824.0 1256.4 L829.6 1280.7 M831.5 1254.6 L845.4 1267.6 M852.0 1273.2 L857.6 1299.3 M861.7 1270.9 L865.9 1247.5 M877.7 1221.9 L881.9 1200.5 M887.3 1211.2 L892.6 1200.5 L896.9 1213.3 M901.1 1217.6 L905.0 1227.0" stroke="#ff0000" stroke-width="7.7" fill="none" stroke-linejoin="round" stroke-linecap="round" clip-path="url(#cb)"/>
<line x1="638.3" y1="818.3" x2="638.3" y2="1364.0" stroke="#000" stroke-width="11.8" stroke-dasharray="11.8 11.85"/>
<line x1="713.4" y1="814.2" x2="713.4" y2="1345.3" stroke="#000" stroke-width="11.8" stroke-dasharray="11.8 11.85"/>
<line x1="147.6" y1="782.08" x2="147.6" y2="1370.70" stroke="#000" stroke-width="2.9"/>
<line x1="147.6" y1="1360.20" x2="161.80" y2="1360.20" stroke="#000" stroke-width="2.9"/>
<text x="107" y="1374.90" font-size="48" text-anchor="end">0</text>
<line x1="147.6" y1="1264.08" x2="161.80" y2="1264.08" stroke="#000" stroke-width="2.9"/>
<text x="107" y="1278.78" font-size="48" text-anchor="end">0.2</text>
<line x1="147.6" y1="1167.96" x2="161.80" y2="1167.96" stroke="#000" stroke-width="2.9"/>
<text x="107" y="1182.66" font-size="48" text-anchor="end">0.4</text>
<line x1="147.6" y1="1071.84" x2="161.80" y2="1071.84" stroke="#000" stroke-width="2.9"/>
<text x="107" y="1086.54" font-size="48" text-anchor="end">0.6</text>
<line x1="147.6" y1="975.72" x2="161.80" y2="975.72" stroke="#000" stroke-width="2.9"/>
<text x="107" y="990.42" font-size="48" text-anchor="end">0.8</text>
<line x1="147.6" y1="879.60" x2="161.80" y2="879.60" stroke="#000" stroke-width="2.9"/>
<text x="107" y="894.30" font-size="48" text-anchor="end">1</text>
<line x1="147.6" y1="783.48" x2="161.80" y2="783.48" stroke="#000" stroke-width="2.9"/>
<text x="107" y="798.18" font-size="48" text-anchor="end">1.2</text>
<line x1="146.20" y1="1360.20" x2="903.40" y2="1360.20" stroke="#000" stroke-width="2.9"/>
<line x1="147.60" y1="1360.20" x2="147.60" y2="1370.70" stroke="#000" stroke-width="2.9"/>
<line x1="187.30" y1="1360.20" x2="187.30" y2="1370.70" stroke="#000" stroke-width="2.9"/>
<line x1="227.00" y1="1360.20" x2="227.00" y2="1370.70" stroke="#000" stroke-width="2.9"/>
<line x1="266.70" y1="1360.20" x2="266.70" y2="1374.40" stroke="#000" stroke-width="2.9"/>
<line x1="306.40" y1="1360.20" x2="306.40" y2="1370.70" stroke="#000" stroke-width="2.9"/>
<line x1="346.10" y1="1360.20" x2="346.10" y2="1370.70" stroke="#000" stroke-width="2.9"/>
<line x1="385.80" y1="1360.20" x2="385.80" y2="1370.70" stroke="#000" stroke-width="2.9"/>
<line x1="425.50" y1="1360.20" x2="425.50" y2="1374.40" stroke="#000" stroke-width="2.9"/>
<line x1="465.20" y1="1360.20" x2="465.20" y2="1370.70" stroke="#000" stroke-width="2.9"/>
<line x1="504.90" y1="1360.20" x2="504.90" y2="1370.70" stroke="#000" stroke-width="2.9"/>
<line x1="544.60" y1="1360.20" x2="544.60" y2="1370.70" stroke="#000" stroke-width="2.9"/>
<line x1="584.30" y1="1360.20" x2="584.30" y2="1374.40" stroke="#000" stroke-width="2.9"/>
<line x1="624.00" y1="1360.20" x2="624.00" y2="1370.70" stroke="#000" stroke-width="2.9"/>
<line x1="663.70" y1="1360.20" x2="663.70" y2="1370.70" stroke="#000" stroke-width="2.9"/>
<line x1="703.40" y1="1360.20" x2="703.40" y2="1370.70" stroke="#000" stroke-width="2.9"/>
<line x1="743.10" y1="1360.20" x2="743.10" y2="1374.40" stroke="#000" stroke-width="2.9"/>
<line x1="782.80" y1="1360.20" x2="782.80" y2="1370.70" stroke="#000" stroke-width="2.9"/>
<line x1="822.50" y1="1360.20" x2="822.50" y2="1370.70" stroke="#000" stroke-width="2.9"/>
<line x1="862.20" y1="1360.20" x2="862.20" y2="1370.70" stroke="#000" stroke-width="2.9"/>
<line x1="901.90" y1="1360.20" x2="901.90" y2="1374.40" stroke="#000" stroke-width="2.9"/>
<text x="266.70" y="1430.60" font-size="48" text-anchor="middle">945</text>
<text x="425.50" y="1430.60" font-size="48" text-anchor="middle">941</text>
<text x="584.30" y="1430.60" font-size="48" text-anchor="middle">937</text>
<text x="743.10" y="1430.60" font-size="48" text-anchor="middle">933</text>
<text x="901.90" y="1430.60" font-size="48" text-anchor="middle">929</text>
<text x="524.3" y="1490.9" font-size="47.5" text-anchor="middle">Binding Energy (eV)</text>
<text transform="translate(32.3 1072.6) rotate(-90)" font-size="47.5" text-anchor="middle">Normalized Intensity</text>
<path d="M150 800.8 L201 800.8" stroke="#000" stroke-width="6" fill="none" stroke-linejoin="round" stroke-linecap="round"/>
<text x="206" y="815.5" font-size="47.5">0 v cell</text>
<path d="M150 862.7 L201 862.7" stroke="#5b9bd5" stroke-width="7.9" fill="none" stroke-linejoin="round" stroke-linecap="round" stroke-dasharray="0 15.8"/>
<text x="206" y="877.4" font-size="47.5">0 V cell, recharged</text>
<path d="M150 924.7 L201 924.7" stroke="#ffc000" stroke-width="6" fill="none" stroke-linejoin="round" stroke-linecap="round" stroke-dasharray="12 12"/>
<text x="206" y="939.4" font-size="47.5">0.25 v cell</text>
<path d="M150 986.7 L201 986.7" stroke="#ff0000" stroke-width="7.7" fill="none" stroke-linejoin="round" stroke-linecap="round" stroke-dasharray="23.1 30.8"/>
<text x="206" y="1001.4" font-size="47.5">0.25 v cell, recharged</text>
<text x="511" y="800" font-size="47.5">Cu(OH)<tspan font-size="31.5" dy="11.4">2</tspan></text>
<text x="728.5" y="858" font-size="47.5">Cu<tspan font-size="31.5" dy="11.4">2</tspan><tspan dy="-11.4">O</tspan></text>
</svg></body></html>
